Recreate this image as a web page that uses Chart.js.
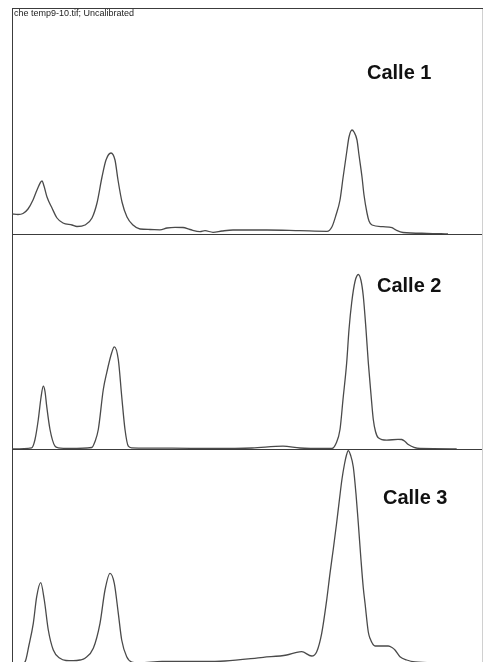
<!DOCTYPE html>
<html>
<head>
<meta charset="utf-8">
<script src="https://cdn.jsdelivr.net/npm/chart.js@4.4.1/dist/chart.umd.min.js"></script>
<style>
  body { margin: 0; background: #fff; width: 483px; height: 662px; overflow: hidden; position: relative; font-family: "Liberation Sans", Arial, sans-serif; }
  canvas { position: absolute; left: 0; }
  .title { position: absolute; left: 14px; top: 9px; font-size: 9px; line-height: 9px; color: #222; white-space: nowrap; }
  .lane { position: absolute; font-size: 20px; line-height: 20px; font-weight: bold; color: #111; white-space: nowrap; }
</style>
</head>
<body>
<canvas id="lane1" width="483" height="235" style="top:0px"></canvas>
<canvas id="lane2" width="483" height="215" style="top:235px"></canvas>
<canvas id="lane3" width="483" height="215" style="top:450px"></canvas>
<div class="title">che temp9-10.tif; Uncalibrated</div>
<div class="lane" style="left:367px; top:62px">Calle 1</div>
<div class="lane" style="left:377px; top:275px">Calle 2</div>
<div class="lane" style="left:383px; top:487px">Calle 3</div>
<script>
// perfiles de densidad de cada calle (posicion en el gel, intensidad)
let lane1Pos = [0, 6, 11, 16, 21, 25, 30, 32, 35, 40,
    45, 51, 60, 65, 73, 80, 85, 90, 94, 99,
    103, 106, 110, 115, 121, 128, 138, 148, 155, 163,
    171, 178, 188, 193, 201, 210, 221, 255, 288, 315,
    320, 324, 328, 331, 335, 337, 340, 342, 345, 347,
    350, 352, 355, 357, 360, 371, 380, 384, 391, 415,
    436];
let lane1Val = [20, 19.5, 20.5, 25, 34, 44, 53, 48, 37, 26,
    16, 11, 9, 7.5, 9, 16, 31, 57, 74, 81,
    74, 54, 32, 17, 9, 5, 4.5, 4.2, 6, 6.7,
    6.5, 4.5, 2.3, 3.3, 1.7, 3, 4, 4, 3.3, 2.7,
    7.3, 19, 34, 56, 84, 97, 104, 102, 94, 79,
    57, 39, 21, 13, 9, 7.3, 6.3, 4, 1.5, 0.7,
    0];

let lane2Pos = [0, 19.7, 23, 26.3, 29, 31.3, 33, 34.7, 38, 43,
    46.3, 58, 79.7, 83, 86.3, 91.3, 94.7, 99.7, 102.3, 106.3,
    109.7, 113, 116.3, 119.7, 160, 200, 240, 271, 288, 313,
    319.7, 324, 328, 331, 334.7, 337, 339.7, 343, 346.3, 349,
    351.3, 354, 356.3, 359, 361.3, 363.5, 366.3, 374.7, 386, 389.7,
    393, 396.3, 402, 408, 444.7];
let lane2Val = [0, 1.2, 9.5, 29.5, 51.5, 62.8, 57.5, 42.8, 19.5, 2.8,
    1.2, 0.5, 1.5, 7.5, 19.5, 59.5, 76.2, 96.2, 102.2, 89.5,
    52.8, 19.5, 2.8, 1.2, 0.8, 0.5, 1, 2.8, 1, 0.5,
    0.5, 5.5, 19.5, 49.5, 86.5, 119.5, 146.5, 167.5, 174.5, 168.5,
    152.8, 119.5, 86.5, 54.5, 29.5, 17.5, 11.2, 8.8, 9.7, 9.5,
    7.5, 4.5, 1.7, 0.5, 0.2];

let lane3Pos = [0, 13, 17, 21.3, 24.7, 28.7, 32.3, 36.3, 41.3, 48,
    54, 61.3, 68, 73, 81.3, 88, 93, 98, 102.3, 106.3,
    109.7, 114.7, 119.7, 128, 150, 190, 213, 251.3, 274.7, 284.7,
    289.7, 299.7, 304.7, 309.7, 314.7, 318, 321.3, 324.5, 327.5, 330,
    332.5, 334.5, 336.3, 338.5, 341.3, 344, 346.3, 349, 351.3, 353,
    356.3, 358, 363, 376.3, 380, 383, 388, 394.7, 403, 428];
let lane3Val = [-4, 2, 19, 40.7, 67.3, 81.3, 64, 34, 14, 5.7,
    3.5, 3.3, 4, 5.7, 15.7, 40.7, 74, 90.7, 80.7, 50.7,
    24, 7.3, 2, 1, 2.5, 2.5, 3, 6.7, 9, 11.7,
    12.3, 8, 12.3, 30.7, 64, 90.7, 115, 140, 165, 185,
    200, 209, 213.3, 209, 197, 170, 140.7, 104, 76, 61,
    32, 25.7, 18, 18, 16.5, 14, 7.3, 4, 2, 1];

let xMax = 470;
let lineColor = "#4a4a4a";
let axisColor = "#3c3c3c";

function hiddenAxis(extra) {
    return Object.assign({
        ticks: { display: false },
        grid: { display: false, drawTicks: false },
        border: { display: true, color: axisColor, width: 1 }
    }, extra);
}

function drawLane(canvasId, pos, val, yMax, padTop, withTop) {
    let points = pos.map((x, i) => ({ x: x, y: val[i] }));

    let scales = {
        x: hiddenAxis({ type: "linear", position: "bottom", min: 0, max: xMax }),
        y: hiddenAxis({ position: "left", min: 0, max: yMax }),
        yRight: hiddenAxis({ position: "right", min: 0, max: 1,
            border: { display: true, color: "#d0d0d0", width: 1 } })
    };
    if (withTop) {
        scales.xTop = hiddenAxis({ type: "linear", position: "top", min: 0, max: xMax });
    }

    let ctx = document.getElementById(canvasId).getContext("2d");
    new Chart(ctx, {
        type: "line",
        data: {
            datasets: [{
                data: points,
                borderColor: lineColor,
                borderWidth: 1.3,
                pointRadius: 0,
                fill: false,
                cubicInterpolationMode: "monotone"
            }]
        },
        options: {
            responsive: false,
            animation: false,
            layout: { padding: { top: padTop, right: 1, bottom: 1, left: 12 } },
            plugins: { legend: { display: false }, tooltip: { enabled: false } },
            scales: scales
        }
    });
}

drawLane("lane1", lane1Pos, lane1Val, 226, 8, true);
drawLane("lane2", lane2Pos, lane2Val, 214, 0, false);
drawLane("lane3", lane3Pos, lane3Val, 214, 0, false);
</script>
</body>
</html>
